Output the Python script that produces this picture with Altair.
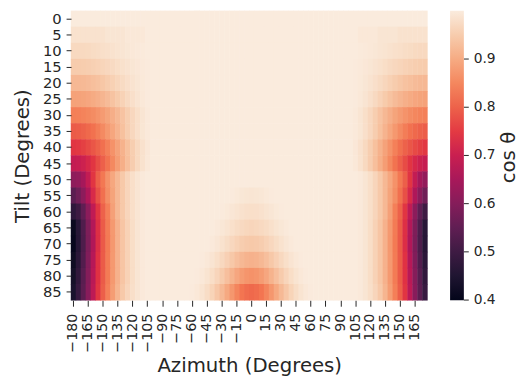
import altair as alt
import pandas as pd

azimuths = list(range(-180, 180, 5))
tilts = list(range(0, 90, 5))
az_ticks = list(range(-180, 180, 15))

# cos(theta) read per row (tilt), columns = azimuth -180..175 step 5
row_00 = [1,1,1,1,1, 1,1,1,1,1, 1,1,1,1,1, 1,1,
          1,1,1,1,1, 1,1,1,1,1, 1,1,1,1,1, 1,1,1,1,1, 1,1,1,1,1, 1,1,1,1,1, 1,1,1,1,1, 1,1,1,1,
          1,1,1,1,1, 1,1,1,1,1, 1,1,1,1,1, 1]
row_05 = [.985,.985,.985,.985,.985,.985,.985,.99,.99,.99,.99,.995,.995,.995,.995,1,1,
          1,1,1,1,1, 1,1,1,1,1, 1,1,1,1,1, 1,1,1,1,1, 1,1,1,1,1, 1,1,1,1,1, 1,1,1,1,1, 1,1,1,1,
          1,1,.995,.995,.995,.995,.99,.99,.99,.99,.985,.985,.985,.985,.985,.985]
row_10 = [.97,.97,.97,.972,.975,.977,.98,.982,.985,.988,.99,.993,.995,.997,.998,1,1,
          1,1,1,1,1, 1,1,1,1,1, 1,1,1,1,1, 1,1,1,1,1, 1,1,1,1,1, 1,1,1,1,1, 1,1,1,1,1, 1,1,1,1,
          1,1,.998,.997,.995,.993,.99,.988,.985,.982,.98,.977,.975,.972,.97,.97]
row_15 = [.95,.95,.951,.953,.956,.96,.964,.968,.973,.978,.983,.987,.991,.994,.997,.999,1,
          1,1,1,1,1, 1,1,1,1,1, 1,1,1,1,1, 1,1,1,1,1, 1,1,1,1,1, 1,1,1,1,1, 1,1,1,1,1, 1,1,1,1,
          1,.999,.997,.994,.991,.987,.983,.978,.973,.968,.964,.96,.956,.953,.951,.95]
row_20 = [.92,.92,.922,.925,.93,.935,.942,.95,.958,.966,.974,.981,.987,.992,.996,.999,1,
          1,1,1,1,1, 1,1,1,1,1, 1,1,1,1,1, 1,1,1,1,1, 1,1,1,1,1, 1,1,1,1,1, 1,1,1,1,1, 1,1,1,1,
          1,.999,.996,.992,.987,.981,.974,.966,.958,.95,.942,.935,.93,.925,.922,.92]
row_25 = [.887,.888,.89,.894,.9,.907,.915,.925,.936,.948,.96,.971,.981,.989,.995,.999,1,
          1,1,1,1,1, 1,1,1,1,1, 1,1,1,1,1, 1,1,1,1,1, 1,1,1,1,1, 1,1,1,1,1, 1,1,1,1,1, 1,1,1,1,
          1,.999,.995,.989,.981,.971,.96,.948,.936,.925,.915,.907,.9,.894,.89,.888]
row_30 = [.84,.842,.845,.85,.857,.866,.877,.89,.905,.92,.937,.953,.968,.98,.99,.997,1,
          1,1,1,1,1, 1,1,1,1,1, 1,1,1,1,1, 1,1,1,1,1, 1,1,1,1,1, 1,1,1,1,1, 1,1,1,1,1, 1,1,1,1,
          1,.997,.99,.98,.968,.953,.937,.92,.905,.89,.877,.866,.857,.85,.845,.842]
row_35 = [.79,.792,.8,.81,.822,.838,.855,.873,.893,.913,.933,.952,.968,.981,.991,.997,1,
          1,1,1,1,1, 1,1,1,1,1, 1,1,1,1,1, 1,1,1,1,1, 1,1,1,1,1, 1,1,1,1,1, 1,1,1,1,1, 1,1,1,1,
          1,.997,.991,.981,.968,.952,.933,.913,.893,.873,.855,.838,.822,.81,.8,.792]
row_40 = [.745,.748,.756,.768,.783,.8,.82,.842,.865,.888,.911,.933,.953,.97,.984,.994,1,
          1,1,1,1,1, 1,1,1,1,1, 1,1,1,1,1, 1,1,1,1,1, 1,1,1,1,1, 1,1,1,1,1, 1,1,1,1,1, 1,1,1,1,
          1,.994,.984,.97,.953,.933,.911,.888,.865,.842,.82,.8,.783,.768,.756,.748]
row_45 = [.69,.694,.705,.722,.745,.77,.797,.825,.853,.88,.906,.93,.952,.97,.985,.995,1,
          1,1,1,1,1, 1,1,1,1,1, 1,1,1,1,1, 1,1,1,1,1, 1,1,1,1,1, 1,1,1,1,1, 1,1,1,1,1, 1,1,1,1,
          1,.995,.985,.97,.952,.93,.906,.88,.853,.825,.797,.77,.745,.722,.705,.694]
row_50 = [.613,.62,.645,.69,.745,.795,.832,.865,.895,.92,.945,.965,.98,.99,.997,1,1,
          1,1,1,1,1, 1,1,1,1,1, 1,1,1,1,1, 1,1,1,1,1, 1,1,1,1,1, 1,1,1,1,1, 1,1,1,1,1, 1,1,1,1,
          1,1,.997,.99,.98,.965,.945,.92,.895,.865,.832,.795,.745,.69,.645,.62]
row_55 = [.542,.57,.61,.66,.725,.775,.82,.86,.89,.92,.945,.965,.98,.99,.997,1,1,
          1,1,1,
          1,1,1,1,1, 1,1,1,1,1, 1,1,
          .999,.996,.993,.991,.99,.991,.993,.996,.999,
          1,1,1,1,1, 1,1,1,1,1, 1,1,
          1,1,1,
          1,1,.997,.99,.98,.965,.945,.92,.89,.86,.82,.775,.725,.66,.61,.57]
row_60 = [.476,.5,.55,.61,.685,.745,.8,.84,.885,.92,.945,.965,.98,.99,.997,1,1,
          1,1,1,
          1,1,1,1,1, 1,1,1,1,1,
          .999,.996,.992,.988,.984,.981,.98,.981,.984,.988,.992,.996,.999,
          1,1,1,1,1, 1,1,1,1,1,
          1,1,1,
          1,1,.997,.99,.98,.965,.945,.92,.885,.84,.8,.745,.685,.61,.55,.5]
row_65 = [.41,.465,.525,.59,.665,.735,.79,.835,.875,.91,.94,.96,.978,.99,.997,1,1,
          1,1,1,
          1,1,1,1,1, 1,1,1,1,
          .997,.993,.988,.982,.976,.971,.967,.965,.967,.971,.976,.982,.988,.993,.997,
          1,1,1,1,1, 1,1,1,1,
          1,1,1,
          1,1,.997,.99,.978,.96,.94,.91,.875,.835,.79,.735,.665,.59,.525,.465]
row_70 = [.405,.462,.522,.588,.663,.733,.788,.834,.874,.91,.94,.96,.978,.99,.997,1,1,
          1,1,1,
          1,1,1,1,1, 1,1,1,
          .997,.992,.985,.977,.968,.96,.952,.947,.945,.947,.952,.96,.968,.977,.985,.992,.997,
          1,1,1,1,1, 1,1,1,
          1,1,1,
          1,1,.997,.99,.978,.96,.94,.91,.874,.834,.788,.733,.663,.588,.522,.462]
row_75 = [.418,.47,.53,.595,.67,.74,.79,.835,.875,.91,.94,.96,.978,.99,.997,1,1,
          1,1,1,
          1,1,1,1,1, 1,
          .999,.995,.989,.98,.969,.957,.944,.931,.92,.913,.91,.913,.92,.931,.944,.957,.969,.98,.989,.995,.999,
          1,1,1,1,1, 1,
          1,1,1,
          1,1,.997,.99,.978,.96,.94,.91,.875,.835,.79,.74,.67,.595,.53,.47]
row_80 = [.43,.48,.54,.6,.675,.74,.79,.835,.875,.91,.94,.96,.978,.99,.997,1,1,
          1,1,1,
          1,1,1,1,1,
          .999,.995,.988,.978,.965,.949,.931,.912,.894,.879,.869,.865,.869,.879,.894,.912,.931,.949,.965,.978,.988,.995,.999,
          1,1,1,1,1,
          1,1,1,
          1,1,.997,.99,.978,.96,.94,.91,.875,.835,.79,.74,.675,.6,.54,.48]
row_85 = [.44,.49,.545,.605,.68,.745,.795,.84,.88,.915,.945,.965,.98,.99,.997,1,1,
          1,1,1,
          1,1,1,1,
          .999,.995,.988,.977,.962,.943,.921,.897,.872,.848,.828,.815,.81,.815,.828,.848,.872,.897,.921,.943,.962,.977,.988,.995,.999,
          1,1,1,1,
          1,1,1,
          1,1,.997,.99,.98,.965,.945,.915,.88,.84,.795,.745,.68,.605,.545,.49]

rows = [row_00, row_05, row_10, row_15, row_20, row_25, row_30, row_35, row_40,
        row_45, row_50, row_55, row_60, row_65, row_70, row_75, row_80, row_85]

records = []
for t, row in zip(tilts, rows):
    for a, v in zip(azimuths, row):
        records.append({"azimuth": a, "tilt": t, "cos": v})
df = pd.DataFrame(records)

rocket_stops = [0.3995, 0.486, 0.571, 0.657, 0.743, 0.829, 0.914, 1.0]
rocket_colors = ["#03051a", "#35193e", "#701f57", "#ad1759", "#e13342",
                 "#f37651", "#f6b48f", "#faebdd"]
legend_values = [0.4, 0.5, 0.6, 0.7, 0.8, 0.9]

FONT = "DejaVu Sans"
TXT = "#262626"
cscale = alt.Scale(domain=rocket_stops, range=rocket_colors)

# cells slightly oversized (centered on band) so neighbouring cells overlap, hiding seams
heat = alt.Chart(df).mark_rect(width=5.5, height=16.8).encode(
    x=alt.X("azimuth:O", sort=azimuths,
            scale=alt.Scale(paddingInner=0, paddingOuter=0),
            axis=alt.Axis(values=az_ticks, labelAngle=-90, title="Azimuth (Degrees)",
                          labelExpr="replace(datum.label, '-', '\u2212')",
                          domain=False, tickSize=6, tickColor=TXT, labelPadding=7,
                          labelFontSize=14.5, titleFontSize=20, titlePadding=4,
                          labelFont=FONT, titleFont=FONT, labelColor=TXT,
                          titleColor=TXT, titleFontWeight="normal")),
    y=alt.Y("tilt:O", sort=tilts,
            scale=alt.Scale(paddingInner=0, paddingOuter=0),
            axis=alt.Axis(title="Tilt (Degrees)", labelAngle=0,
                          domain=False, tickSize=5, tickColor=TXT, labelPadding=5,
                          labelFontSize=15, titleFontSize=20, titlePadding=10,
                          labelFont=FONT, titleFont=FONT, labelColor=TXT,
                          titleColor=TXT, titleFontWeight="normal")),
    color=alt.Color("cos:Q", scale=cscale,
                    legend=alt.Legend(type="gradient", title=None, orient="none",
                                      legendX=385, legendY=0,
                                      direction="vertical", values=legend_values,
                                      gradientLength=294, gradientThickness=14,
                                      labelFontSize=14, labelFont=FONT, labelColor=TXT,
                                      labelOffset=10, gradientStrokeWidth=0)),
)

# small tick marks beside the colour bar, at the legend values
cbar_ticks = alt.Chart(pd.DataFrame({"v": legend_values})).mark_rule(
    color=TXT, strokeWidth=1
).encode(
    y=alt.Y("v:Q", scale=alt.Scale(domain=[rocket_stops[0], rocket_stops[-1]],
                                   range=[294, 0], nice=False, zero=False),
            axis=None),
    x=alt.value(399), x2=alt.value(404),
)

cbar_title = alt.Chart(pd.DataFrame({"t": ["cos θ"]})).mark_text(
    angle=270, fontSize=20, font=FONT, color=TXT, baseline="middle", align="center"
).encode(x=alt.value(445), y=alt.value(149), text="t:N")

chart = alt.layer(heat, cbar_ticks, cbar_title).resolve_scale(
    y="independent"
).properties(
    width=362, height=294,
    autosize=alt.AutoSizeParams(type="none"),
    padding={"left": 64, "top": 0, "right": 93, "bottom": 74},
).configure_view(stroke=None)

chart.save("out.html", embed_options={"renderer": "svg", "actions": False})
